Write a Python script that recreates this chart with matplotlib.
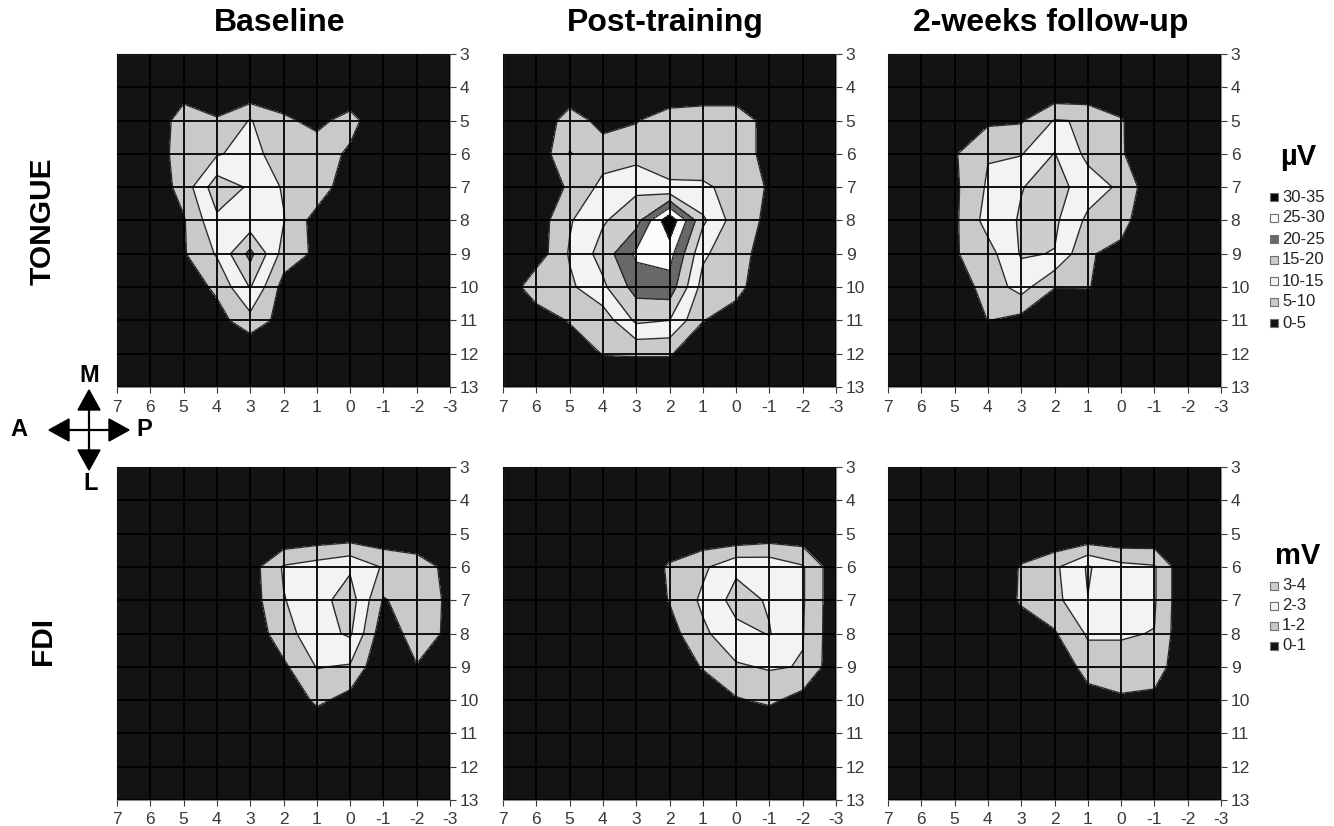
import numpy as np
import matplotlib.pyplot as plt
from matplotlib.patches import Rectangle, Polygon

plt.rcParams['font.family'] = ['Liberation Sans', 'DejaVu Sans']
plt.rcParams['axes.unicode_minus'] = False

# stimulation grid (cm): columns x = 7..-3, rows y = 3..13
x_pos = [7, 6, 5, 4, 3, 2, 1, 0, -1, -2, -3]
y_pos = [3, 4, 5, 6, 7, 8, 9, 10, 11, 12, 13]

col_titles = ['Baseline', 'Post-training', '2-weeks follow-up']
row_titles = ['TONGUE', 'FDI']

# tongue MEP (uV)
tongue_baseline = [
    [0, 0, 0, 0, 0, 0, 0, 0, 0, 0, 0],
    [0, 0, 2, 1, 0, 1, 0, 0, 0, 0, 0],
    [0, 0, 8, 5.5, 10.3, 6, 3.5, 7.1, 0, 0, 0],
    [0, 1, 8, 9.5, 12, 7, 8, 4, 0, 0, 0],
    [0, 1, 7, 18, 14.3, 9.5, 8.5, 1, 0, 0, 0],
    [0, 0, 4.5, 14, 11.5, 10.3, 2.7, 0, 0, 0, 0],
    [0, 0, 4.5, 10.5, 21.5, 8, 4, 0, 0, 0, 0],
    [0, 0, 2, 6, 15.3, 3, 1, 0, 0, 0, 0],
    [0, 0, 0, 3, 8.2, 3, 0, 0, 0, 0, 0],
    [0, 0, 0, 0, 0.2, 0.5, 0, 0, 0, 0, 0],
    [0, 0, 0, 0, 0, 0, 0, 0, 0, 0, 0],
]
tongue_post = [
    [0, 0, 0, 0, 0, 0, 0, 0, 0, 0, 0],
    [0, 0, 0, 0, 0, 0, 0, 0, 0, 0, 0],
    [0, 0, 8, 3, 4.7, 8, 9, 9, 2.3, 0, 0],
    [0, 1, 10.2, 8, 8, 9, 8, 8, 3, 0, 0],
    [0, 0, 6, 11.3, 14, 10.3, 10.5, 9, 4.3, 0, 0],
    [0, 2, 9.5, 14.5, 18, 34, 16, 7.4, 4, 0, 0],
    [0, 2, 10.5, 17, 26, 27, 11, 6, 3.8, 0, 0],
    [0, 9, 9, 14, 22, 23, 8, 7, 0.3, 0, 0],
    [0, 1, 5.5, 7, 16, 15, 5.2, 2, 0, 0, 0],
    [0, 0, 0.5, 5.3, 5.5, 5.5, 1, 0, 0, 0, 0],
    [0, 0, 0, 0, 0, 0, 0, 0, 0, 0, 0],
]
tongue_follow = [
    [0, 0, 0, 0, 0, 0, 0, 0, 0, 0, 0],
    [0, 0, 0, 0, 0, 0, 0, 0, 0, 0, 0],
    [0, 0, 2, 4, 4.5, 10.3, 9.6, 5.5, 0, 0, 0],
    [0, 0, 4.5, 9.7, 9.7, 15.2, 8.7, 5.6, 0, 0, 0],
    [0, 0, 4, 10.7, 14.8, 17, 12.5, 9.1, 0.9, 0, 0],
    [0, 0, 4, 12, 15.5, 16, 8.9, 7, 0, 0, 0],
    [0, 0, 4.5, 8, 15.5, 14.8, 5.5, 3.5, 0, 0, 0],
    [0, 0, 2, 7, 12, 5.2, 5.3, 2, 0, 0, 0],
    [0, 0, 0, 5.1, 3.3, 0, 0, 0, 0, 0, 0],
    [0, 0, 0, 0, 0, 0, 0, 0, 0, 0, 0],
    [0, 0, 0, 0, 0, 0, 0, 0, 0, 0, 0],
]

# FDI MEP (mV)
fdi_baseline = [
    [0, 0, 0, 0, 0, 0, 0, 0, 0, 0, 0],
    [0, 0, 0, 0, 0, 0, 0, 0, 0, 0, 0],
    [0, 0, 0, 0, 0, 0, 0.2, 0.3, 0.2, 0.2, 0],
    [0, 0, 0, 0, 0.53, 2.1, 2.45, 2.85, 1.9, 1.5, 0.7],
    [0, 0, 0, 0, 0.49, 1.95, 2.6, 3.5, 0.9, 1.6, 0.8],
    [0, 0, 0, 0, 0.27, 1.6, 2.6, 3.15, 0.3, 1.5, 0.8],
    [0, 0, 0, 0, 0, 0.8, 2.05, 1.9, 0, 0.95, 0.3],
    [0, 0, 0, 0, 0, 0, 1.25, 0.6, 0, 0, 0],
    [0, 0, 0, 0, 0, 0, 0, 0, 0, 0, 0],
    [0, 0, 0, 0, 0, 0, 0, 0, 0, 0, 0],
    [0, 0, 0, 0, 0, 0, 0, 0, 0, 0, 0],
]
fdi_post = [
    [0, 0, 0, 0, 0, 0, 0, 0, 0, 0, 0],
    [0, 0, 0, 0, 0, 0, 0, 0, 0, 0, 0],
    [0, 0, 0, 0, 0, 0, 0.2, 0, 0.3, 0.3, 0],
    [0, 0, 0, 0, 0.15, 1.15, 1.8, 2.8, 2.7, 2.1, 0.3],
    [0, 0, 0, 0, 0.2, 1.05, 2.2, 3.37, 2.9, 2.1, 0.3],
    [0, 0, 0, 0, 0, 0.6, 1.8, 2.7, 3.05, 2.05, 0.3],
    [0, 0, 0, 0, 0, 0, 1.1, 1.88, 2.1, 1.95, 0.3],
    [0, 0, 0, 0, 0, 0, 0, 0.9, 1.2, 0.6, 0],
    [0, 0, 0, 0, 0, 0, 0, 0, 0, 0, 0],
    [0, 0, 0, 0, 0, 0, 0, 0, 0, 0, 0],
    [0, 0, 0, 0, 0, 0, 0, 0, 0, 0, 0],
]
fdi_follow = [
    [0, 0, 0, 0, 0, 0, 0, 0, 0, 0, 0],
    [0, 0, 0, 0, 0, 0, 0, 0, 0, 0, 0],
    [0, 0, 0, 0, 0, 0, 0, 0, 0.1, 0, 0],
    [0, 0, 0, 0, 1.1, 1.8, 3.1, 2.3, 2.1, 0, 0],
    [0, 0, 0, 0, 1.15, 1.67, 2.98, 2.7, 2.1, 0, 0],
    [0, 0, 0, 0, 0.3, 0.9, 2.125, 2.05, 1.98, 0, 0],
    [0, 0, 0, 0, 0, 0, 1.5, 1.8, 1.6, 0, 0],
    [0, 0, 0, 0, 0, 0, 0.5, 0.8, 0.7, 0, 0],
    [0, 0, 0, 0, 0, 0, 0, 0, 0, 0, 0],
    [0, 0, 0, 0, 0, 0, 0, 0, 0, 0, 0],
    [0, 0, 0, 0, 0, 0, 0, 0, 0, 0, 0],
]

uv_levels = [0, 5, 10, 15, 20, 25, 30, 35]
uv_colors = ['#131313', '#c9c9c9', '#f3f3f3', '#cdcdcd', '#686868', '#fbfbfb', '#050505']
uv_labels = ['0-5', '5-10', '10-15', '15-20', '20-25', '25-30', '30-35']

mv_levels = [0, 1, 2, 3, 4]
mv_colors = ['#131313', '#c9c9c9', '#f3f3f3', '#cdcdcd']
mv_labels = ['0-1', '1-2', '2-3', '3-4']

W, H = 1334, 826
fig = plt.figure(figsize=(W / 100, H / 100), dpi=100)

# overlay in pixel coordinates for the free-floating decorations
ov = fig.add_axes([0, 0, 1, 1])
ov.set_xlim(0, W)
ov.set_ylim(H, 0)
ov.axis('off')

col_left = [117, 503, 888]
col_w = 333
row_top = [54, 467]
row_h = 333

maps = [[tongue_baseline, tongue_post, tongue_follow],
        [fdi_baseline, fdi_post, fdi_follow]]
X, Y = np.meshgrid(x_pos, y_pos)

for r in range(2):
    levels = uv_levels if r == 0 else mv_levels
    colors = uv_colors if r == 0 else mv_colors
    for c in range(3):
        ax = fig.add_axes([col_left[c] / W, 1 - (row_top[r] + row_h) / H,
                           col_w / W, row_h / H])
        Z = np.array(maps[r][c], dtype=float)
        ax.set_facecolor(colors[0])
        ax.contourf(X, Y, Z, levels=levels, colors=colors)
        ax.contour(X, Y, Z, levels=levels[1:-1], colors='#2b2b2b', linewidths=1.0)
        ax.set_xlim(7, -3)
        ax.set_ylim(13, 3)
        ax.set_xticks(x_pos)
        ax.set_yticks(y_pos)
        ax.yaxis.tick_right()
        ax.grid(True, color='#000000', linewidth=1.3)
        ax.set_axisbelow(False)
        ax.tick_params(labelsize=12.5, colors='#3a3a3a', length=4, width=0.8)
        ax.tick_params(axis='x', pad=5)
        ax.tick_params(axis='y', pad=3)
        for s in ax.spines.values():
            s.set_color('#909090')
            s.set_linewidth(0.8)
        if r == 0:
            ov.text(col_left[c] + col_w / 2 - 4, 23, col_titles[c], ha='center',
                    va='center', fontsize=23, fontweight='bold')

# row labels
ov.text(43, 221, row_titles[0], rotation=90, ha='center', va='center',
        fontsize=21.5, fontweight='bold')
ov.text(43, 641, row_titles[1], rotation=90, ha='center', va='center',
        fontsize=21.5, fontweight='bold')

# orientation cross
cx, cy, arm, hl, hw = 89, 430, 40, 20, 11
ov.plot([cx - arm + hl, cx + arm - hl], [cy, cy], color='k', lw=1.6)
ov.plot([cx, cx], [cy - arm + hl, cy + arm - hl], color='k', lw=1.6)
for dx, dy in [(0, -1), (0, 1), (-1, 0), (1, 0)]:
    tip = (cx + dx * arm, cy + dy * arm)
    base = (cx + dx * (arm - hl), cy + dy * (arm - hl))
    px, py = -dy, dx
    ov.add_patch(Polygon([tip, (base[0] + px * hw, base[1] + py * hw),
                          (base[0] - px * hw, base[1] - py * hw)],
                         closed=True, color='k'))
ov.text(cx, cy - arm - 14, 'M', ha='center', va='center', fontsize=17, fontweight='bold')
ov.text(cx + 2, cy + arm + 13, 'L', ha='center', va='center', fontsize=17, fontweight='bold')
ov.text(cx - arm - 30, cy, 'A', ha='center', va='center', fontsize=17, fontweight='bold')
ov.text(cx + arm + 15, cy, 'P', ha='center', va='center', fontsize=17, fontweight='bold')


def draw_legend(unit, y_unit, y_first, step, labels, colors):
    ov.text(1298, y_unit, unit, ha='center', va='center', fontsize=21,
            fontweight='bold')
    n = len(labels)
    for i in range(n):
        k = n - 1 - i
        yy = y_first + i * step
        ov.add_patch(Rectangle((1270, yy - 4), 8, 8, facecolor=colors[k],
                               edgecolor='#707070', linewidth=0.8))
        ov.text(1282, yy, labels[k], ha='left', va='center', fontsize=12,
                color='#222222')


draw_legend('µV', 157, 197, 21, uv_labels, uv_colors)
draw_legend('mV', 556, 586, 20, mv_labels, mv_colors)

fig.savefig('out.png', dpi=100)
